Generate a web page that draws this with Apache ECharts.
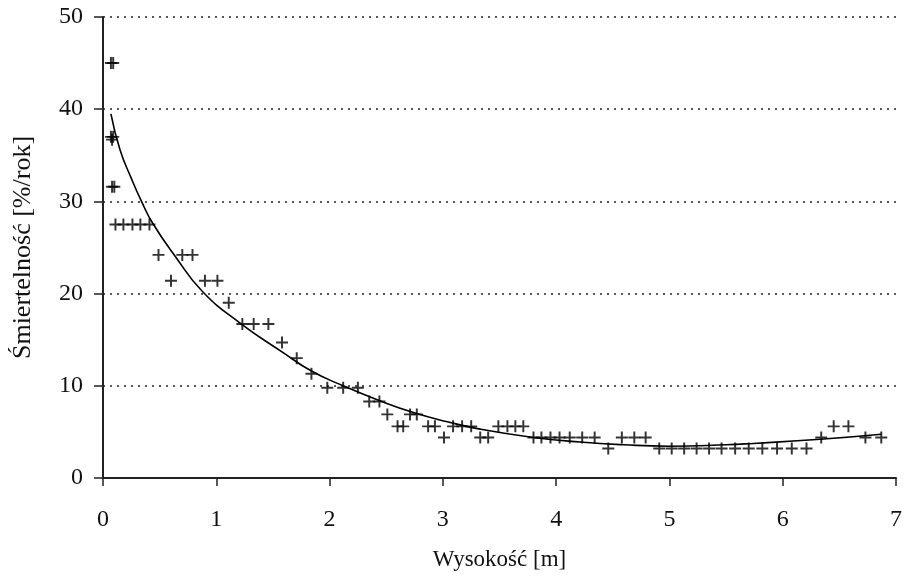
<!DOCTYPE html>
<html>
<head>
<meta charset="utf-8">
<script src="https://cdn.jsdelivr.net/npm/echarts@6/dist/echarts.min.js"></script>
<style>
  html, body { margin: 0; padding: 0; background: #fff; }
  #chart { width: 905px; height: 576px; }
</style>
</head>
<body>
<div id="chart"></div>
<script>
// Dane pomiarowe: wysokość [m] i śmiertelność [%/rok]
const wysokosc = [
  0.07, 0.09, 0.07, 0.09, 0.08, 0.08, 0.10,
  0.11, 0.18, 0.26, 0.33, 0.41,
  0.49, 0.70, 0.79, 0.60, 0.90, 1.01, 1.11,
  1.23, 1.33, 1.46, 1.58, 1.71, 1.84,
  1.98, 2.12, 2.25, 2.35, 2.44, 2.51,
  2.60, 2.65, 2.71, 2.77, 2.87, 2.93, 3.01,
  3.09, 3.17, 3.25, 3.33, 3.40,
  3.49, 3.57, 3.64, 3.71,
  3.80, 3.87, 3.95, 4.03, 4.12, 4.23, 4.34,
  4.46, 4.58, 4.69, 4.79,
  4.91, 5.02, 5.13, 5.24, 5.35, 5.46, 5.58, 5.70, 5.82, 5.95, 6.08, 6.21,
  6.34, 6.45, 6.58, 6.73, 6.87
];
const smiertelnosc = [
  45.0, 45.0, 37.0, 37.0, 36.7, 31.6, 31.6,
  27.5, 27.5, 27.5, 27.5, 27.5,
  24.2, 24.2, 24.2, 21.4, 21.4, 21.4, 19.0,
  16.7, 16.7, 16.7, 14.7, 13.0, 11.3,
  9.8, 9.8, 9.8, 8.3, 8.3, 6.9,
  5.6, 5.6, 6.9, 6.9, 5.6, 5.6, 4.4,
  5.6, 5.6, 5.6, 4.4, 4.4,
  5.6, 5.6, 5.6, 5.6,
  4.4, 4.4, 4.4, 4.4, 4.4, 4.4, 4.4,
  3.2, 4.4, 4.4, 4.4,
  3.2, 3.2, 3.2, 3.2, 3.2, 3.2, 3.2, 3.2, 3.2, 3.2, 3.2, 3.2,
  4.4, 5.6, 5.6, 4.4, 4.4
];

// Linia trendu
const trendX = [0.07, 0.15, 0.25, 0.34, 0.44, 0.64, 0.88, 1.21, 1.59, 1.84, 2.12, 2.44, 2.74, 3.04, 3.33, 3.80, 4.21, 4.60, 5.00, 5.50, 5.74, 6.33, 6.87];
const trendY = [39.5, 35.6, 32.5, 30.0, 27.6, 24.0, 20.2, 16.8, 13.6, 11.6, 10.0, 8.4, 7.1, 6.1, 5.3, 4.4, 3.9, 3.6, 3.45, 3.6, 3.75, 4.2, 4.75];

const xTicks = [0, 1, 2, 3, 4, 5, 6, 7];
const yTicks = [0, 10, 20, 30, 40, 50];

const punkty = wysokosc.map((x, i) => [x, smiertelnosc[i]]);
const trend = trendX.map((x, i) => [x, trendY[i]]);

const font = '"Liberation Serif", "DejaVu Serif", serif';
const plusPath = 'path://M0,4.6H4.6V0H6.4V4.6H11V6.4H6.4V11H4.6V6.4H0Z';

const chart = echarts.init(document.getElementById('chart'));
chart.setOption({
  animation: false,
  backgroundColor: '#fff',
  grid: { left: 103, right: 9, top: 17, bottom: 96 },
  xAxis: {
    type: 'value',
    min: xTicks[0],
    max: xTicks[xTicks.length - 1],
    interval: 1,
    name: 'Wysokość [m]',
    nameLocation: 'middle',
    nameGap: 70,
    nameTextStyle: { fontFamily: font, fontSize: 23, color: '#111' },
    axisLine: { lineStyle: { color: '#222', width: 2 } },
    axisTick: { show: true, length: 8, lineStyle: { color: '#222', width: 1.5 } },
    axisLabel: { margin: 30, fontFamily: font, fontSize: 24, color: '#111' },
    splitLine: { show: false }
  },
  yAxis: {
    type: 'value',
    min: yTicks[0],
    max: yTicks[yTicks.length - 1],
    interval: 10,
    name: 'Śmiertelność [%/rok]',
    nameLocation: 'middle',
    nameGap: 67,
    nameTextStyle: { fontFamily: font, fontSize: 26, color: '#111' },
    axisLine: { show: true, lineStyle: { color: '#222', width: 2 } },
    axisTick: { show: true, length: 9, lineStyle: { color: '#222', width: 1.5 } },
    axisLabel: { margin: 20, fontFamily: font, fontSize: 24, color: '#111' },
    splitLine: { show: true, lineStyle: { color: '#222', type: [2, 5], width: 1.5 } }
  },
  series: [
    {
      name: 'trend',
      type: 'line',
      data: trend,
      smooth: 0.5,
      showSymbol: false,
      lineStyle: { color: '#000', width: 1.6 },
      z: 2
    },
    {
      name: 'pomiary',
      type: 'scatter',
      data: punkty,
      symbol: plusPath,
      symbolSize: 12,
      itemStyle: { color: '#000' },
      z: 3
    }
  ]
});
</script>
</body>
</html>
